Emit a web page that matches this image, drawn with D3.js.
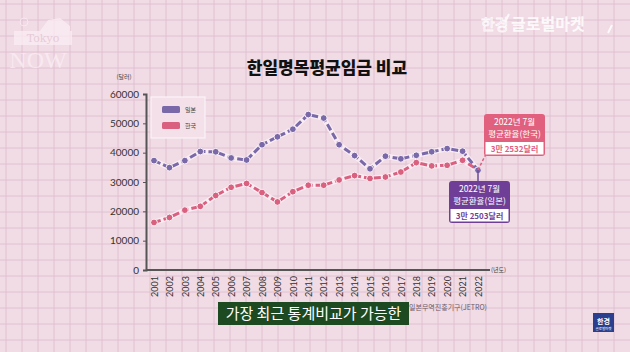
<!DOCTYPE html>
<html>
<head>
<meta charset="utf-8">
<script src="https://cdn.jsdelivr.net/npm/d3@7.9.0/dist/d3.min.js"></script>
<style>
  html, body { margin: 0; padding: 0; background: #f1dbe5; }
  svg { display: block; font-family: 'Noto Sans CJK KR', 'Noto Sans', sans-serif; }
</style>
</head>
<body>
<svg id="chart" width="630" height="352"></svg>
<script>
const years = d3.range(2001, 2023);
const japan = [37300, 34900, 37300, 40400, 40300, 38200, 37500, 42700, 45400, 48000,
  53000, 51800, 42700, 39000, 34500, 38800, 37900, 39100, 40300, 41400, 40500, 34000];
const korea = [16200, 17900, 20400, 21700, 25400, 28200, 29500, 26400, 23200, 26700,
  28900, 28900, 30700, 32200, 31200, 31700, 33400, 36600, 35500, 35700, 37400, 34100];
const yTicks = [0, 10000, 20000, 30000, 40000, 50000, 60000];
const seriesNames = ['일본', '한국'];
const colors = { '일본': '#7a69a9', '한국': '#d9607f' };

const svg = d3.select('#chart');

// graph paper background
const bg = svg.append('g');
bg.append('rect').attr('width', 630).attr('height', 352).attr('fill', '#f1dbe5');
d3.range(6, 630, 16).forEach((x) => {
  bg.append('line').attr('x1', x).attr('x2', x).attr('y1', 0).attr('y2', 352)
    .attr('stroke', '#e0c0d0').attr('stroke-width', 1);
});
d3.range(4, 352, 16).forEach((y) => {
  bg.append('line').attr('x1', 0).attr('x2', 630).attr('y1', y).attr('y2', y)
    .attr('stroke', '#e0c0d0').attr('stroke-width', 1);
});

// logos
const tk = svg.append('g').attr('opacity', 0.75);
tk.append('rect').attr('x', 14).attr('y', 31).attr('width', 58).attr('height', 14).attr('fill', '#fbeef4');
tk.append('text').attr('x', 43).attr('y', 42).attr('text-anchor', 'middle')
  .attr('font-family', 'DejaVu Serif, serif').attr('font-size', 11).attr('fill', '#e3c8d5').text('Tokyo');
tk.append('text').attr('x', 38).attr('y', 68).attr('text-anchor', 'middle')
  .attr('font-family', 'Liberation Serif, serif').attr('font-size', 24).attr('fill', '#fbeef4').text('NOW');
tk.append('circle').attr('cx', 24).attr('cy', 22).attr('r', 4).attr('fill', 'none').attr('stroke', '#fbeef4');
tk.append('path').attr('d', 'M40,31 L48,20 L60,18 L70,26 L70,31 Z').attr('fill', '#fbeef4');

const hk = svg.append('g').attr('opacity', 0.85);
hk.append('text').attr('x', 481).attr('y', 30).attr('font-size', 15).attr('fill', 'none')
  .attr('stroke', '#fff').attr('stroke-width', 0.8).text('한경');
hk.append('path').attr('d', 'M509,14 L505,22').attr('stroke', '#fff').attr('stroke-width', 2);
hk.append('text').attr('x', 511).attr('y', 30).attr('font-size', 16).attr('font-weight', 700)
  .attr('fill', '#fff').text('글로벌마켓');
hk.append('path').attr('d', 'M612,25 L608,33').attr('stroke', '#fff').attr('stroke-width', 2);

// title
svg.append('text').attr('x', 327).attr('y', 74).attr('text-anchor', 'middle')
  .attr('font-size', 17).attr('font-weight', 900).attr('fill', '#111').text('한일명목평균임금 비교');

// scales
const x = d3.scaleLinear().domain([2001, 2022]).range([154, 478]);
const y = d3.scaleLinear().domain([0, 60000]).range([270, 94]);

// y axis
const yAxis = svg.append('g').attr('transform', 'translate(146,0)')
  .call(d3.axisLeft(y).tickValues(yTicks).tickSize(3).tickPadding(4).tickFormat(d3.format('d')));
yAxis.select('.domain').attr('stroke', '#555').attr('stroke-width', 2);
yAxis.selectAll('.tick line').attr('stroke', '#555');
yAxis.selectAll('.tick text').attr('font-family', 'Lato, sans-serif').attr('font-size', 10).attr('fill', '#333');
svg.append('text').attr('x', 124).attr('y', 79).attr('text-anchor', 'middle')
  .attr('font-size', 6).attr('fill', '#444').text('(달러)');

// x axis
const xAxis = svg.append('g').attr('transform', 'translate(0,270)')
  .call(d3.axisBottom(x).tickValues(years).tickSize(0).tickFormat(d3.format('d')));
xAxis.select('.domain').remove();
svg.append('line').attr('x1', 146).attr('x2', 490).attr('y1', 270).attr('y2', 270)
  .attr('stroke', '#555').attr('stroke-width', 2);
xAxis.selectAll('.tick text')
  .attr('transform', 'rotate(-90)').attr('text-anchor', 'end')
  .attr('x', -6).attr('y', 0).attr('dy', '0.35em')
  .attr('font-family', 'Lato, sans-serif').attr('font-size', 9).attr('fill', '#333');
svg.append('text').attr('x', 491).attr('y', 272).attr('font-size', 6).attr('fill', '#444').text('(년도)');

// source
svg.append('text').attr('x', 487).attr('y', 310).attr('text-anchor', 'end')
  .attr('font-size', 7).attr('fill', '#6a5a66').text('자료: 일본무역진흥기구(JETRO)');

// lines
const line = d3.line().x((d, i) => x(years[i])).y((d) => y(d));
[['한국', korea], ['일본', japan]].forEach(([name, vals]) => {
  svg.append('path').attr('d', line(vals)).attr('fill', 'none')
    .attr('stroke', '#fbf1f6').attr('stroke-width', 5.5).attr('opacity', 0.8);
});
[['한국', korea], ['일본', japan]].forEach(([name, vals]) => {
  const g = svg.append('g');
  g.append('path').attr('d', line(vals)).attr('fill', 'none')
    .attr('stroke', colors[name]).attr('stroke-width', 3).attr('stroke-dasharray', '7,3');
  g.selectAll('circle').data(vals).join('circle')
    .attr('cx', (d, i) => x(years[i])).attr('cy', (d) => y(d)).attr('r', 3.4)
    .attr('fill', colors[name]).attr('stroke', '#fbf1f6').attr('stroke-width', 1);
});

// legend
const lg = svg.append('g');
lg.append('rect').attr('x', 151).attr('y', 97).attr('width', 54).attr('height', 41)
  .attr('fill', '#f3e0e9').attr('stroke', '#fbf3f7').attr('stroke-width', 1.2);
seriesNames.forEach((name, i) => {
  lg.append('rect').attr('x', 162).attr('y', 106 + i * 16).attr('width', 18).attr('height', 7)
    .attr('rx', 1.5).attr('fill', colors[name]);
  lg.append('text').attr('x', 185).attr('y', 112 + i * 16).attr('font-size', 6)
    .attr('fill', '#444').text(name);
});

// annotations
function callout(bx, by, w, color, title1, title2, value) {
  const g = svg.append('g');
  g.append('rect').attr('x', bx).attr('y', by).attr('width', w).attr('height', 42)
    .attr('rx', 3).attr('fill', color);
  g.append('rect').attr('x', bx + 1.5).attr('y', by + 28).attr('width', w - 3).attr('height', 12.5)
    .attr('fill', '#fff');
  g.append('text').attr('x', bx + w / 2).attr('y', by + 11).attr('text-anchor', 'middle')
    .attr('font-size', 8.5).attr('fill', '#fff').text(title1);
  g.append('text').attr('x', bx + w / 2).attr('y', by + 23).attr('text-anchor', 'middle')
    .attr('font-size', 8.5).attr('fill', '#fff').text(title2);
  g.append('text').attr('x', bx + w / 2).attr('y', by + 37.5).attr('text-anchor', 'middle')
    .attr('font-size', 8).attr('font-weight', 700).attr('fill', color).text(value);
}
const kx = x(2022), ky = y(korea[21]);
svg.append('line').attr('x1', kx).attr('y1', ky).attr('x2', kx + 8).attr('y2', 154)
  .attr('stroke', colors['한국']).attr('stroke-width', 1.5).attr('stroke-dasharray', '3,2');
const jx = x(2022), jy = y(japan[21]);
svg.append('line').attr('x1', jx).attr('y1', jy).attr('x2', jx).attr('y2', 181)
  .attr('stroke', '#6b4a9a').attr('stroke-width', 1.5);
callout(484, 114, 61, '#e0607e', '2022년 7월', '평균환율(한국)', '3만 2532달러');
callout(449, 181, 61, '#6f3f98', '2022년 7월', '평균환율(일본)', '3만 2503달러');

// caption
svg.append('rect').attr('x', 218).attr('y', 302).attr('width', 191).attr('height', 23).attr('fill', '#1d4a20');
svg.append('text').attr('x', 313.5).attr('y', 319).attr('text-anchor', 'middle')
  .attr('font-size', 15).attr('fill', '#fff').text('가장 최근 통계비교가 가능한');

// bottom-right logo
svg.append('rect').attr('x', 593).attr('y', 313).attr('width', 21).attr('height', 19).attr('fill', '#2b3f8e');
svg.append('text').attr('x', 603.5).attr('y', 324).attr('text-anchor', 'middle')
  .attr('font-size', 7).attr('font-weight', 700).attr('fill', '#fff').text('한경');
svg.append('text').attr('x', 603.5).attr('y', 330).attr('text-anchor', 'middle')
  .attr('font-size', 3.5).attr('fill', '#fff').text('글로벌마켓');
</script>
</body>
</html>
